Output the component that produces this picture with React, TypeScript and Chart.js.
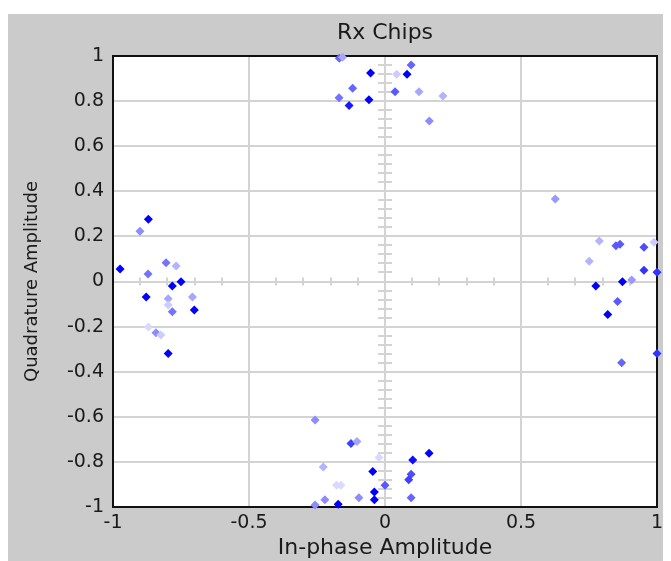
import React, { useEffect, useRef } from 'react';
import { Chart, registerables } from 'chart.js';

Chart.register(...registerables);

// In-phase (I) values of each received chip
const chipI = [
  -0.168, -0.156, 0.096, -0.053, 0.043, 0.081, -0.119, 0.037, 0.125, -0.169, -0.059, 0.213, -0.132, 0.163,
  -0.870, -0.901, -0.974, -0.805, -0.768, -0.871, -0.750, -0.782, -0.878, -0.797, -0.708, -0.797, -0.782, -0.701, -0.870, -0.842, -0.824, -0.797,
  0.626, 0.788, 0.849, 0.864, 0.952, 0.989, 0.751, 0.952, 1.0, 0.873, 0.907, 0.775, 0.855, 0.819, 1.0, 0.870,
  -0.257, -0.125, -0.103, -0.022, 0.162, 0.102, -0.227, -0.045, 0.096, 0.087, -0.178, -0.162, 0.0, -0.039, -0.039, -0.221, -0.096, 0.096, -0.172, -0.257,
];
// Quadrature (Q) values of each received chip
const chipQ = [
  0.990, 0.994, 0.960, 0.925, 0.919, 0.919, 0.857, 0.842, 0.842, 0.815, 0.806, 0.823, 0.781, 0.712,
  0.276, 0.223, 0.055, 0.083, 0.069, 0.033, -0.001, -0.020, -0.069, -0.076, -0.069, -0.104, -0.134, -0.126, -0.202, -0.227, -0.237, -0.319,
  0.366, 0.180, 0.159, 0.165, 0.152, 0.174, 0.090, 0.050, 0.041, -0.001, 0.007, -0.020, -0.089, -0.146, -0.319, -0.360,
  -0.614, -0.718, -0.710, -0.781, -0.762, -0.792, -0.823, -0.843, -0.855, -0.879, -0.904, -0.904, -0.904, -0.934, -0.968, -0.968, -0.959, -0.959, -0.988, -0.991,
];
// colour intensity of each chip (1 = full blue, lower = faded)
const chipShade = [
  0.6, 0.35, 0.6, 1, 0.2, 1, 0.6, 0.65, 0.35, 0.55, 1, 0.3, 0.9, 0.45,
  1, 0.45, 1, 0.55, 0.3, 0.55, 1, 1, 1, 0.35, 0.35, 0.2, 0.55, 1, 0.15, 0.45, 0.2, 1,
  0.4, 0.3, 0.65, 0.65, 0.7, 0.2, 0.3, 0.8, 0.8, 1, 0.4, 1, 0.65, 1, 0.8, 0.6,
  0.45, 0.75, 0.35, 0.15, 1, 0.95, 0.3, 1, 0.7, 0.75, 0.15, 0.15, 0.65, 1, 1, 0.45, 0.45, 0.6, 1, 0.45,
];

const xTickValues = [-1, -0.5, 0, 0.5, 1];
const yTickValues = [-1, -0.8, -0.6, -0.4, -0.2, 0, 0.2, 0.4, 0.6, 0.8, 1];

const TITLE = 'Rx Chips';
const X_TITLE = 'In-phase Amplitude';
const Y_TITLE = 'Quadrature Amplitude';

const GRID = '#d3d3d3';
const PANEL = '#cbcbcb';
const FONT = 'DejaVu Sans';
const TEXT = '#1a1a1a';

function shadeColor(s: number) {
  const c = Math.round(255 * (1 - s));
  return `rgb(${c},${c},255)`;
}

const backgroundPlugin = {
  id: 'panelBackground',
  beforeDraw(chart: any) {
    const { ctx, chartArea, width, height } = chart;
    ctx.save();
    ctx.fillStyle = '#ffffff';
    ctx.fillRect(0, 0, width, height);
    ctx.fillStyle = PANEL;
    ctx.fillRect(0, 6, width, height - 6);
    ctx.fillStyle = '#ffffff';
    ctx.fillRect(chartArea.left, chartArea.top, chartArea.right - chartArea.left, chartArea.bottom - chartArea.top);
    ctx.restore();
  },
};

const crossPlugin = {
  id: 'centerCross',
  beforeDatasetsDraw(chart: any) {
    const { ctx, chartArea, scales } = chart;
    const x = scales.x;
    const y = scales.y;
    const x0 = x.getPixelForValue(0);
    const y0 = y.getPixelForValue(0);
    ctx.save();
    ctx.strokeStyle = GRID;
    ctx.lineWidth = 2;
    ctx.beginPath();
    for (let k = -9; k <= 9; k++) {
      if (k === 0) continue;
      const px = Math.round(x.getPixelForValue(k / 10));
      ctx.moveTo(px, y0 - 4);
      ctx.lineTo(px, y0 + 4);
    }
    for (let k = -24; k <= 24; k++) {
      if (k === 0) continue;
      const py = Math.round(y.getPixelForValue(k * 0.04));
      ctx.moveTo(x0 - 7, py);
      ctx.lineTo(x0 + 7, py);
    }
    ctx.stroke();
    ctx.strokeStyle = '#111111';
    ctx.lineWidth = 2;
    ctx.strokeRect(chartArea.left, chartArea.top, chartArea.right - chartArea.left, chartArea.bottom - chartArea.top);
    ctx.restore();
  },
};

export default function App() {
  const canvasRef = useRef<HTMLCanvasElement | null>(null);

  useEffect(() => {
    document.body.style.overflow = 'hidden';
    const canvas = canvasRef.current;
    if (!canvas) return;
    const points = chipI.map((v, i) => ({ x: v, y: chipQ[i] }));
    const colors = chipShade.map(shadeColor);

    const chart = new Chart(canvas, {
      type: 'scatter',
      data: {
        datasets: [
          {
            data: points,
            pointStyle: 'rectRot',
            pointRadius: 4.5,
            pointBorderWidth: 0,
            pointBackgroundColor: colors,
            pointBorderColor: colors,
            clip: false,
          } as any,
        ],
      },
      options: {
        animation: false,
        responsive: false,
        devicePixelRatio: 1,
        events: [],
        layout: { padding: { top: 12, right: 14, bottom: 0, left: 0 } },
        plugins: {
          legend: { display: false },
          tooltip: { enabled: false },
          title: {
            display: true,
            fullSize: false,
            text: TITLE,
            color: TEXT,
            font: { family: FONT, size: 22, weight: 'normal' },
            padding: { top: 0, bottom: 9.6 },
          },
        },
        scales: {
          x: {
            type: 'linear',
            min: -1,
            max: 1,
            afterBuildTicks: (scale: any) => {
              scale.ticks = xTickValues.map((v) => ({ value: v }));
            },
            afterFit: (scale: any) => {
              scale.height = 54;
            },
            grid: { color: GRID, lineWidth: 2, drawTicks: false },
            border: { display: false },
            ticks: {
              color: TEXT,
              font: { family: FONT, size: 19 },
              padding: 5,
              maxRotation: 0,
              callback: (v: any) => String(v),
            },
            title: {
              display: true,
              text: X_TITLE,
              color: TEXT,
              font: { family: FONT, size: 22 },
              padding: { top: 0, bottom: 0 },
            },
          },
          y: {
            type: 'linear',
            min: -1,
            max: 1,
            afterBuildTicks: (scale: any) => {
              scale.ticks = yTickValues.map((v) => ({ value: v }));
            },
            afterFit: (scale: any) => {
              scale.width = 105;
            },
            grid: { color: GRID, lineWidth: 2, drawTicks: false },
            border: { display: false },
            ticks: {
              color: TEXT,
              font: { family: FONT, size: 19 },
              padding: 9,
              callback: (v: any) => String(Math.round(v * 10) / 10),
            },
            title: {
              display: true,
              text: Y_TITLE,
              color: TEXT,
              font: { family: FONT, size: 18 },
              padding: { top: 14, bottom: 0 },
            },
          },
        },
      },
      plugins: [backgroundPlugin, crossPlugin],
    });
    return () => chart.destroy();
  }, []);

  return (
    <div style={{ width: 663, height: 553 }}>
      <canvas ref={canvasRef} width={663} height={553} style={{ display: 'block', width: 663, height: 553 }} />
    </div>
  );
}
